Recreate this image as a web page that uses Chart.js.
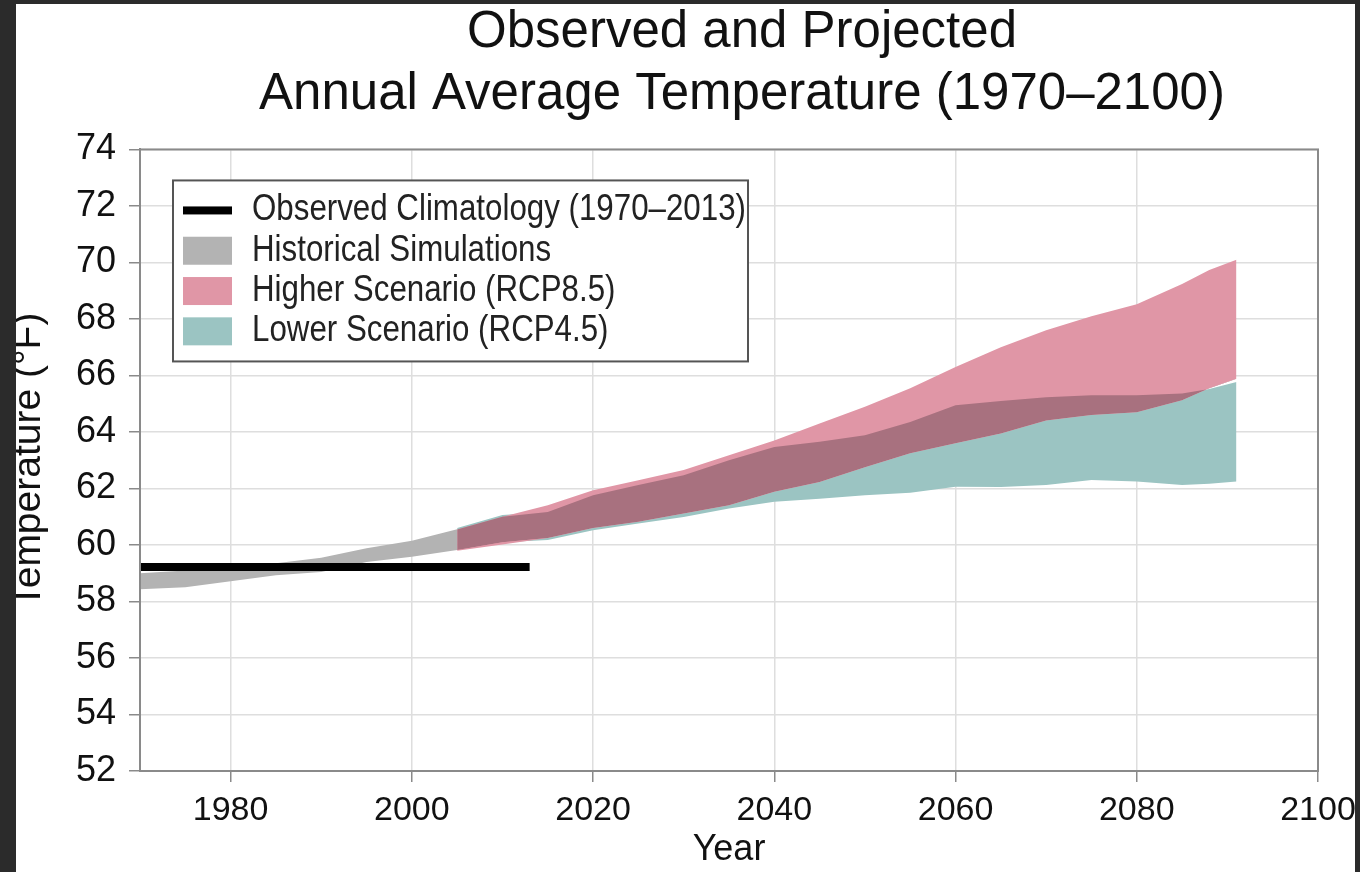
<!DOCTYPE html>
<html>
<head>
<meta charset="utf-8">
<script src="https://cdn.jsdelivr.net/npm/chart.js@4.4.1/dist/chart.umd.min.js"></script>
<style>
  html, body { margin: 0; padding: 0; background: #fff; }
  #wrap { position: relative; width: 1360px; height: 872px; overflow: hidden; background: #fff; }
  #chart { position: absolute; left: 0; top: 0; }
  .frame { position: absolute; background: #2b2b2b; }
</style>
</head>
<body>
<div id="wrap">
  <canvas id="chart" width="1360" height="872"></canvas>
  <div class="frame" style="left:0;top:0;width:1360px;height:4px"></div>
  <div class="frame" style="left:0;top:0;width:16px;height:872px"></div>
  <div class="frame" style="left:1355px;top:0;width:5px;height:872px"></div>
</div>
<script>
// Observed and projected annual average temperature, 1970-2100 (°F).

const xTicks = [1980, 2000, 2020, 2040, 2060, 2080, 2100];

// Observed climatology (flat mean 1970-2013)
const obsYears = [1970, 2013];
const obsTemp = [59.22, 59.22];

// Historical simulations band
const histYears = [1970, 1975, 1980, 1985, 1990, 1995, 2000, 2005];
const histHigh  = [59.0, 59.1, 59.2, 59.35, 59.55, 59.88, 60.15, 60.56];
const histLow   = [58.43, 58.5, 58.72, 58.93, 59.04, 59.4, 59.58, 59.82];

// Projections
const projYears = [2005, 2010, 2015, 2020, 2025, 2030, 2035, 2040, 2045, 2050, 2055, 2060, 2065, 2070, 2075, 2080, 2085, 2088, 2091];
const rcp85High = [60.55, 61.0, 61.41, 61.94, 62.29, 62.65, 63.18, 63.7, 64.3, 64.89, 65.55, 66.3, 67.0, 67.6, 68.1, 68.52, 69.24, 69.73, 70.1];
const rcp85Low  = [59.8, 60.02, 60.25, 60.6, 60.82, 61.11, 61.41, 61.88, 62.23, 62.75, 63.25, 63.6, 63.95, 64.41, 64.6, 64.7, 65.12, 65.55, 65.88];
const rcp45High = [60.6, 61.06, 61.17, 61.76, 62.12, 62.47, 63.0, 63.47, 63.65, 63.88, 64.35, 64.95, 65.1, 65.23, 65.3, 65.3, 65.36, 65.52, 65.77];
const rcp45Low  = [59.82, 60.1, 60.18, 60.52, 60.76, 60.99, 61.29, 61.53, 61.64, 61.76, 61.85, 62.06, 62.05, 62.12, 62.3, 62.25, 62.12, 62.17, 62.25];

const legendLabels = ['Observed Climatology (1970–2013)', 'Historical Simulations', 'Higher Scenario (RCP8.5)', 'Lower Scenario (RCP4.5)'];

const C = {
  obs: '#000000',
  hist: '#b3b3b3',
  high: '#e096a6',
  low: '#9bc4c2',
  both: '#a8717f',
  grid: '#dedede',
  axis: '#8a8a8a',
  text: '#111111',
};
const FONT = "'Liberation Sans', Arial, sans-serif";

const pts = (xs, ys) => xs.map((x, i) => ({ x, y: ys[i] }));
// where the two scenario bands overlap
const overlapTop = projYears.map((_, i) => Math.min(rcp85High[i], rcp45High[i]));
const overlapBottom = projYears.map((_, i) => Math.max(rcp85Low[i], rcp45Low[i]));

const band = (label, data, fill) => ({
  label, data, fill,
  borderWidth: 0, borderColor: 'transparent', backgroundColor: 'transparent',
  pointRadius: 0, tension: 0,
});

const datasets = [
  { label: legendLabels[0], data: pts(obsYears, obsTemp), borderColor: C.obs, borderWidth: 8,
    borderCapStyle: 'butt', pointRadius: 0, fill: false },
  band('hist-hi', pts(histYears, histHigh), { target: '+1', above: C.hist, below: C.hist }),
  band('hist-lo', pts(histYears, histLow), false),
  band('both-hi', pts(projYears, overlapTop), { target: '+1', above: C.both, below: 'transparent' }),
  band('both-lo', pts(projYears, overlapBottom), false),
  band('high-hi', pts(projYears, rcp85High), { target: '+1', above: C.high, below: C.high }),
  band('high-lo', pts(projYears, rcp85Low), false),
  band('low-hi', pts(projYears, rcp45High), { target: '+1', above: C.low, below: C.low }),
  band('low-lo', pts(projYears, rcp45Low), false),
];

// title in the original sits a bit right of the plot centre
const titleShift = {
  id: 'titleShift',
  afterLayout(chart) {
    const t = chart.titleBlock;
    if (!t) return;
    const w = t.right - t.left;
    t.left = 742 - w / 2;
    t.right = 742 + w / 2;
  }
};

// box around the plot, top and right sides included
const frameBox = {
  id: 'frameBox',
  afterDatasetsDraw(chart) {
    const { ctx, chartArea: a } = chart;
    ctx.save();
    ctx.strokeStyle = C.axis;
    ctx.lineWidth = 2;
    ctx.strokeRect(a.left, a.top, a.right - a.left, a.bottom - a.top);
    ctx.restore();
  }
};

// boxed legend inside the plot, top-left (narrow lettering)
const boxLegend = {
  id: 'boxLegend',
  afterDraw(chart) {
    const { ctx, chartArea: a } = chart;
    const x = a.left + 33, y = a.top + 31, w = 575, h = 181;
    const swatch = [C.obs, C.hist, C.high, C.low];
    ctx.save();
    ctx.fillStyle = '#fff';
    ctx.fillRect(x, y, w, h);
    ctx.strokeStyle = '#555';
    ctx.lineWidth = 2;
    ctx.strokeRect(x, y, w, h);
    ctx.font = '36px ' + FONT;
    ctx.textBaseline = 'middle';
    const k = Math.min(1, 494 / ctx.measureText(legendLabels[0]).width);
    legendLabels.forEach((t, i) => {
      const cy = y + 30 + i * 40.3;
      ctx.fillStyle = swatch[i];
      if (i === 0) ctx.fillRect(x + 10, cy - 4, 49, 8);
      else ctx.fillRect(x + 10, cy - 14, 49, 28);
      ctx.fillStyle = '#222';
      ctx.save();
      ctx.translate(x + 79, cy);
      ctx.scale(k, 1);
      ctx.fillText(t, 0, 0);
      ctx.restore();
    });
    ctx.restore();
  }
};

new Chart(document.getElementById('chart').getContext('2d'), {
  type: 'line',
  data: { datasets },
  plugins: [titleShift, frameBox, boxLegend],
  options: {
    responsive: false,
    animation: false,
    layout: { padding: { left: 0, right: 42, top: 0, bottom: 0 } },
    plugins: {
      legend: { display: false },
      tooltip: { enabled: false },
      title: {
        display: true,
        text: ['Observed and Projected', 'Annual Average Temperature (1970–2100)'],
        color: C.text,
        font: { family: FONT, size: 51, weight: 'normal', lineHeight: 1.22 },
        padding: { top: 2, bottom: 23 },
      },
    },
    scales: {
      x: {
        type: 'linear',
        min: 1970, max: 2100,
        afterBuildTicks: s => { s.ticks = xTicks.map(v => ({ value: v })); },
        // the "2100" label runs into the frame in the original, so no extra room for it
        afterFit: s => { s.height = 101; s.paddingRight = 0; s.paddingLeft = 0; },
        grid: { color: C.grid, lineWidth: 1.5, tickColor: C.axis, tickLength: 11 },
        border: { color: C.axis, width: 2 },
        ticks: { color: C.text, font: { family: FONT, size: 34 }, padding: 8, maxRotation: 0,
                 callback: v => String(v) },
        title: { display: true, text: 'Year', color: C.text,
                 font: { family: FONT, size: 36 }, padding: { top: 0, bottom: 0 } },
      },
      y: {
        min: 52, max: 74,
        afterFit: s => { s.width = 140; },
        grid: { color: C.grid, lineWidth: 1.5, tickColor: C.axis, tickLength: 11 },
        border: { color: C.axis, width: 2 },
        ticks: { stepSize: 2, color: C.text, font: { family: FONT, size: 36 }, padding: 13 },
        title: { display: true, text: 'Temperature (°F)', color: C.text,
                 font: { family: FONT, size: 39 }, padding: { top: 6, bottom: 0 } },
      },
    },
  },
});
</script>
</body>
</html>
